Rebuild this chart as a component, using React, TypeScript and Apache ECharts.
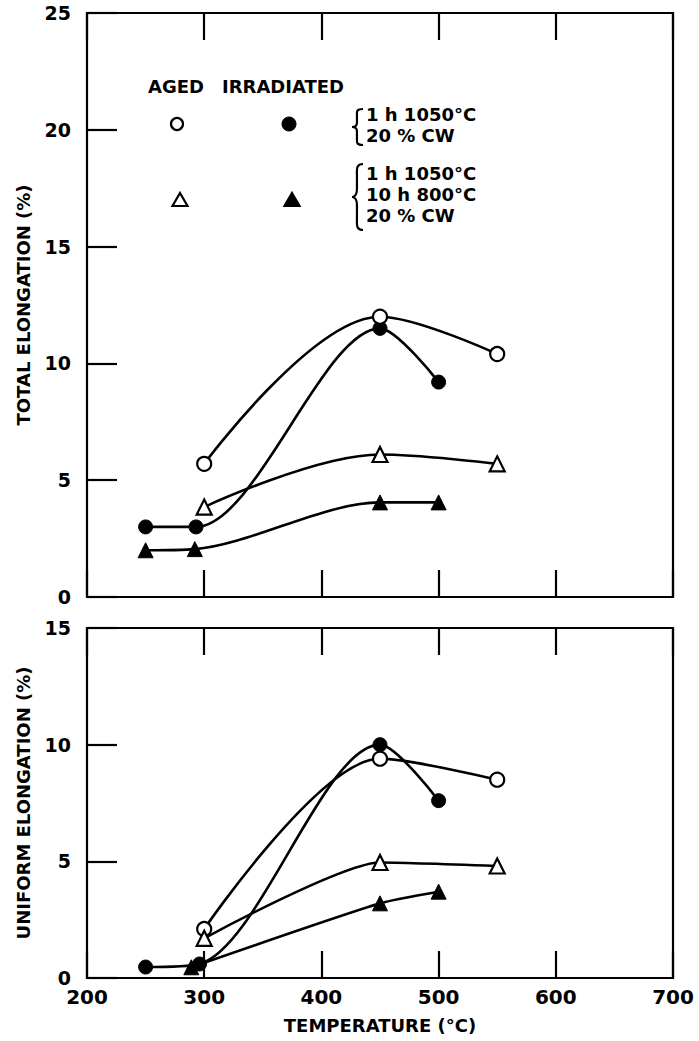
import React, { useEffect, useRef } from "react";
import * as echarts from "echarts";

// ---------- DATA ----------
const xTicks = [200, 300, 400, 500, 600, 700];

// Top panel: total elongation (%)
const topAgedCircleT = [300, 450, 550];
const topAgedCircleV = [5.7, 12.0, 10.4];
const topIrrCircleT = [250, 293, 450, 500];
const topIrrCircleV = [3.0, 3.0, 11.5, 9.2];
const topAgedTriT = [300, 450, 550];
const topAgedTriV = [3.85, 6.1, 5.7];
const topIrrTriT = [250, 292, 450, 500];
const topIrrTriV = [2.0, 2.05, 4.05, 4.05];

// Bottom panel: uniform elongation (%)
const botAgedCircleT = [300, 450, 550];
const botAgedCircleV = [2.1, 9.4, 8.5];
const botIrrCircleT = [250, 296, 450, 500];
const botIrrCircleV = [0.47, 0.6, 10.0, 7.6];
const botAgedTriT = [300, 450, 550];
const botAgedTriV = [1.7, 4.95, 4.8];
const botIrrTriT = [289, 450, 500];
const botIrrTriV = [0.46, 3.2, 3.7];

const legendHeaders = ["AGED", "IRRADIATED"];
const legendGroup1 = ["1 h 1050°C", "20 % CW"];
const legendGroup2 = ["1 h 1050°C", "10 h 800°C", "20 % CW"];

const yTitleTop = "TOTAL ELONGATION (%)";
const yTitleBottom = "UNIFORM ELONGATION (%)";
const xTitle = "TEMPERATURE (°C)";

// ---------- HELPERS ----------
const zip = (t: number[], v: number[]) => t.map((x, i) => [x, v[i]]);
const FONT = "DejaVu Sans";

function bracePath(h: number, w: number) {
  return (
    `M${w},0 C${w * 0.35},0 ${w * 0.45},${h * 0.08} ${w * 0.45},${h * 0.18} ` +
    `L${w * 0.45},${h * 0.38} C${w * 0.45},${h * 0.47} ${w * 0.2},${h * 0.5} 0,${h * 0.5} ` +
    `C${w * 0.2},${h * 0.5} ${w * 0.45},${h * 0.53} ${w * 0.45},${h * 0.62} ` +
    `L${w * 0.45},${h * 0.82} C${w * 0.45},${h * 0.92} ${w * 0.35},${h} ${w},${h}`
  );
}

let registered = false;
function registerBraces() {
  if (registered) return;
  registered = true;
  echarts.graphic.registerShape("brace1", echarts.graphic.extendPath(bracePath(36, 11), {}));
  echarts.graphic.registerShape("brace2", echarts.graphic.extendPath(bracePath(66, 11), {}));
}

export default function App() {
  const ref = useRef<HTMLDivElement>(null);

  useEffect(() => {
    if (!ref.current) return;
    registerBraces();
    const chart = echarts.init(ref.current, undefined, { renderer: "svg" });

    const openStyle = { color: "#fff", borderColor: "#000", borderWidth: 2.2 };
    const filledStyle = { color: "#000", borderColor: "#000", borderWidth: 1 };
    const lineStyle = { color: "#000", width: 2.6 };

    const mk = (
      name: string,
      data: number[][],
      symbol: string,
      filled: boolean,
      idx: number,
      smooth: number
    ) => ({
      name,
      type: "line",
      xAxisIndex: idx * 2,
      yAxisIndex: idx,
      data,
      smooth,
      symbol,
      symbolSize: symbol === "circle" ? 14 : 15,
      showAllSymbol: true,
      itemStyle: filled ? filledStyle : openStyle,
      lineStyle,
      z: filled ? 3 : 4,
      silent: true,
    });

    const gridCommon = {
      left: 87,
      width: 586,
      show: true,
      borderColor: "#000",
      borderWidth: 2.2,
      backgroundColor: "transparent",
    };

    const tick = { inside: true, length: 27, lineStyle: { color: "#000", width: 2.2 } };

    const xAxisBase = (gridIndex: number, position: string, showLabel: boolean) => ({
      gridIndex,
      type: "value",
      min: xTicks[0],
      max: xTicks[xTicks.length - 1],
      interval: 100,
      position,
      axisLine: { show: false },
      axisTick: tick,
      splitLine: { show: false },
      axisLabel: {
        show: showLabel,
        color: "#000",
        fontSize: 20,
        fontWeight: "bold",
        fontFamily: FONT,
        margin: 9,
      },
    });

    const yAxisBase = (gridIndex: number, max: number, name: string) => ({
      gridIndex,
      type: "value",
      min: 0,
      max,
      interval: 5,
      position: "left",
      axisLine: { show: false },
      axisTick: { inside: true, length: 30, lineStyle: { color: "#000", width: 2.2 } },
      splitLine: { show: false },
      axisLabel: { color: "#000", fontSize: 19, fontWeight: "bold", fontFamily: FONT, margin: 16 },
      name,
      nameLocation: "middle",
      nameGap: 55,
      nameRotate: 90,
      nameTextStyle: { color: "#000", fontSize: 18, fontWeight: "bold", fontFamily: FONT },
    });

    const txt = (text: string, x: number, y: number, size = 18) => ({
      type: "text",
      x,
      y,
      silent: true,
      style: {
        text,
        fill: "#000",
        font: `bold ${size}px "${FONT}"`,
        textAlign: "left",
        textVerticalAlign: "middle",
        align: "left",
        verticalAlign: "middle",
      },
    });

    const tri = (cx: number, cy: number, filled: boolean) => ({
      type: "polygon",
      silent: true,
      shape: {
        points: [
          [cx, cy - 7],
          [cx + 7.5, cy + 6],
          [cx - 7.5, cy + 6],
        ],
      },
      style: { fill: filled ? "#000" : "#fff", stroke: "#000", lineWidth: 2.2 },
    });

    const option: any = {
      animation: false,
      backgroundColor: "#fff",
      textStyle: { fontFamily: FONT },
      grid: [
        { ...gridCommon, top: 13, height: 584 },
        { ...gridCommon, top: 628, height: 350 },
      ],
      xAxis: [
        xAxisBase(0, "bottom", false),
        xAxisBase(0, "top", false),
        {
          ...xAxisBase(1, "bottom", true),
          name: xTitle,
          nameLocation: "middle",
          nameGap: 38,
          nameTextStyle: { color: "#000", fontSize: 18, fontWeight: "bold", fontFamily: FONT },
        },
        xAxisBase(1, "top", false),
      ],
      yAxis: [yAxisBase(0, 25, yTitleTop), yAxisBase(1, 15, yTitleBottom)],
      series: [
        mk("top aged circle", zip(topAgedCircleT, topAgedCircleV), "circle", false, 0, 0.35),
        mk("top irr circle", zip(topIrrCircleT, topIrrCircleV), "circle", true, 0, 0.3),
        mk("top aged tri", zip(topAgedTriT, topAgedTriV), "triangle", false, 0, 0.35),
        mk("top irr tri", zip(topIrrTriT, topIrrTriV), "triangle", true, 0, 0.3),
        mk("bot aged circle", zip(botAgedCircleT, botAgedCircleV), "circle", false, 1, 0.3),
        mk("bot irr circle", zip(botIrrCircleT, botIrrCircleV), "circle", true, 1, 0.3),
        mk("bot aged tri", zip(botAgedTriT, botAgedTriV), "triangle", false, 1, 0.2),
        mk("bot irr tri", zip(botIrrTriT, botIrrTriV), "triangle", true, 1, 0.2),
      ],
      graphic: [
        txt(legendHeaders[0], 148, 86),
        txt(legendHeaders[1], 222, 86),
        {
          type: "circle",
          silent: true,
          shape: { cx: 177, cy: 124, r: 6 },
          style: { fill: "#fff", stroke: "#000", lineWidth: 2.2 },
        },
        {
          type: "circle",
          silent: true,
          shape: { cx: 289, cy: 124, r: 7 },
          style: { fill: "#000", stroke: "#000", lineWidth: 1 },
        },
        tri(180, 200, false),
        tri(292, 200, true),
        {
          type: "brace1",
          x: 352,
          y: 109,
          silent: true,
          style: { fill: "transparent", stroke: "#000", lineWidth: 2.2 },
        },
        {
          type: "brace2",
          x: 352,
          y: 164,
          silent: true,
          style: { fill: "transparent", stroke: "#000", lineWidth: 2.2 },
        },
        txt(legendGroup1[0], 366, 114),
        txt(legendGroup1[1], 366, 135),
        txt(legendGroup2[0], 366, 173),
        txt(legendGroup2[1], 366, 194),
        txt(legendGroup2[2], 366, 215),
      ],
    };

    chart.setOption(option);
    return () => chart.dispose();
  }, []);

  return (
    <div
      ref={ref}
      style={{ position: "absolute", left: 0, top: 0, width: 699, height: 1041, background: "#fff" }}
    />
  );
}
